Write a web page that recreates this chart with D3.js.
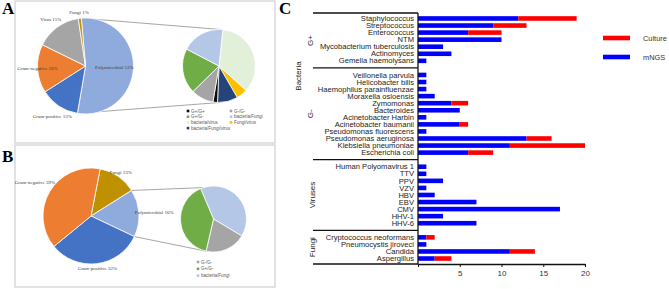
<!DOCTYPE html>
<html lang="en">
<head>
  <meta charset="UTF-8">
  <title>Infection types and pathogens</title>
  <script src="https://cdn.jsdelivr.net/npm/d3@7"></script>
  <style>
    body { margin: 0; background: #fff; }
    svg { display: block; }
    .plab { font-family: "Liberation Serif", serif; font-size: 5px; fill: #404040; }
    .leg { font-family: "Liberation Sans", Arial, sans-serif; font-size: 4.5px; fill: #595959; }
    .panel { font-family: "Liberation Serif", serif; font-size: 17px; font-weight: bold; }
    .row { font-family: "Liberation Sans", Arial, sans-serif; font-size: 7.6px; fill: #222; }
    .grp { font-family: "Liberation Sans", Arial, sans-serif; font-size: 8px; fill: #222; }
    .lgc { font-family: "Liberation Sans", Arial, sans-serif; font-size: 7.4px; fill: #333; }
  </style>
</head>
<body>
<svg width="669" height="289"></svg>
<script>
// ---- panel A data
const catA = ["Polymicrobial", "Gram-positive", "Gram-negative", "Virus", "Fungi"];
const pctA = [53, 13, 16, 15, 1];
const subA = ["bacteria/virus", "Fungi/virus", "bacteria/Fungi/virus", "G+/G+", "G-/G-", "G+/G-", "bacteria/Fungi"];
const subAVal = [35, 5, 9, 2, 10, 20, 19];
const legA = ["G+/G+", "G-/G-", "G+/G-", "bacteria/Fungi", "bacteria/virus", "Fungi/virus", "bacteria/Fungi/virus"];

// ---- panel B data
const catB = ["Fungi", "Polymicrobial", "Gram-positive", "Gram-negative"];
const pctB = [13, 16, 32, 39];
const subB = ["bacteria/Fungi", "G-/G-", "G+/G-"];
const subBVal = [40, 20, 40];
const legB = ["G-/G-", "G+/G-", "bacteria/Fungi"];

// ---- panel C data
const gPos = ["Staphylococcus", "Streptococcus", "Enterococcus", "NTM", "Mycobacterium tuberculosis", "Actinomyces", "Gemella haemolysans"];
const gPosNGS = [12, 9, 6, 10, 3, 4, 1];
const gPosCult = [7, 4, 4, 0, 0, 0, 0];
const gNeg = ["Veillonella parvula", "Helicobacter bilis", "Haemophilus parainfluenzae", "Moraxella osloensis", "Zymomonas", "Bacteroides",
  "Acinetobacter Harbin", "Acinetobacter baumanii", "Pseudomonas fluorescens", "Pseudomonas aeruginosa", "Klebsiella pneumoniae", "Escherichia coli"];
const gNegNGS = [1, 1, 1, 2, 4, 5, 1, 5, 1, 13, 11, 6];
const gNegCult = [0, 0, 0, 0, 2, 0, 0, 1, 0, 3, 9, 3];
const viruses = ["Human Polyomavirus 1", "TTV", "PPV", "VZV", "HBV", "EBV", "CMV", "HHV-1", "HHV-6"];
const virusNGS = [1, 1, 3, 1, 2, 7, 17, 3, 7];
const virusCult = [0, 0, 0, 0, 0, 0, 0, 0, 0];
const fungi = ["Cryptococcus neoformans", "Pneumocystis jiroveci", "Candida", "Aspergillus"];
const fungiNGS = [1, 1, 11, 2];
const fungiCult = [1, 0, 3, 2];
const xTicks = [0, 5, 10, 15, 20];

const colors = {
  "Polymicrobial": "#8faadc", "Gram-positive": "#4472c4", "Gram-negative": "#ed7d31",
  "Virus": "#a5a5a5", "Fungi": "#bf9000",
  "G+/G+": "#0d0d0d", "G-/G-": "#a5a5a5", "G+/G-": "#70ad47", "bacteria/Fungi": "#b4c7e7",
  "bacteria/virus": "#e2f0d9", "Fungi/virus": "#ffc000", "bacteria/Fungi/virus": "#264478"
};
const deg = Math.PI / 180;
const svg = d3.select("svg");

// frames
svg.append("rect").attr("x", 15).attr("y", 1).attr("width", 260).attr("height", 142)
  .attr("fill", "none").attr("stroke", "#d9d9d9").attr("stroke-width", 1.5);
svg.append("rect").attr("x", 15).attr("y", 145).attr("width", 260).attr("height", 142)
  .attr("fill", "none").attr("stroke", "#d9d9d9").attr("stroke-width", 1.5);

svg.append("text").attr("class", "panel").attr("x", 2).attr("y", 14).text("A");
svg.append("text").attr("class", "panel").attr("x", 2).attr("y", 162).text("B");
svg.append("text").attr("class", "panel").attr("x", 279).attr("y", 14).text("C");

function edge(c, r, a) { return [c[0] + r * Math.sin(a), c[1] - r * Math.cos(a)]; }

function pieOfPie(o) {
  const pieMain = d3.pie().sort(null).startAngle(o.start * deg).endAngle(o.start * deg + 2 * Math.PI);
  const arcsMain = pieMain(o.vals);
  const pieSub = d3.pie().sort(null).startAngle(o.subStart * deg).endAngle(o.subStart * deg + 2 * Math.PI);
  const arcsSub = pieSub(o.subVals);

  // connector lines from the polymicrobial slice to the secondary pie
  const poly = arcsMain[o.cats.indexOf("Polymicrobial")];
  const p1 = edge(o.c, o.r, poly.startAngle), p2 = edge(o.c, o.r, poly.endAngle);
  const q1 = edge(o.sc, o.sr, o.topA * deg), q2 = edge(o.sc, o.sr, o.botA * deg);
  svg.append("path").attr("d", d3.line()([p1, q1])).attr("stroke", "#7f7f7f").attr("stroke-width", 0.7).attr("fill", "none");
  svg.append("path").attr("d", d3.line()([p2, q2])).attr("stroke", "#7f7f7f").attr("stroke-width", 0.7).attr("fill", "none");

  const arc = d3.arc().innerRadius(0).outerRadius(o.r);
  svg.append("g").attr("transform", `translate(${o.c})`)
    .selectAll("path").data(arcsMain).join("path")
    .attr("d", arc).attr("fill", (d, i) => colors[o.cats[i]])
    .attr("stroke", "#fff").attr("stroke-width", 0.8);

  const subArc = d3.arc().innerRadius(0).outerRadius(o.sr);
  svg.append("g").attr("transform", `translate(${o.sc})`)
    .selectAll("path").data(arcsSub).join("path")
    .attr("d", subArc).attr("fill", (d, i) => colors[o.subs[i]])
    .attr("stroke", "#fff").attr("stroke-width", 0.8);

  // slice labels
  svg.append("g").attr("transform", `translate(${o.c})`)
    .selectAll("text").data(arcsMain).join("text")
    .attr("class", "plab").attr("text-anchor", "middle").attr("dy", "0.35em")
    .attr("transform", (d, i) => {
      const rr = o.r * o.labR[i];
      return `translate(${d3.arc().innerRadius(rr).outerRadius(rr).centroid(d)})`;
    })
    .text((d, i) => `${o.cats[i]} ${o.vals[i]}%`);

  // legend
  const lg = svg.append("g");
  o.leg.forEach((name, i) => {
    const col = i % o.legCols, rowi = Math.floor(i / o.legCols);
    const x = o.legX + col * o.legDx, y = o.legY + rowi * o.legDy;
    lg.append("rect").attr("x", x - 1.3).attr("y", y - 1.3).attr("width", 2.6).attr("height", 2.6).attr("fill", colors[name]);
    lg.append("text").attr("class", "leg").attr("x", x + 3).attr("y", y).attr("dy", "0.35em").text(name);
  });
}

pieOfPie({
  cats: catA, vals: pctA, c: [85.5, 66], r: 48, start: -5,
  labR: [0.6, 1.25, 1.0, 1.22, 1.12],
  subs: subA, subVals: subAVal, sc: [219, 66], sr: 36.5, subStart: 6, topA: 5, botA: 178,
  leg: legA, legCols: 2, legX: 188, legY: 111, legDx: 43, legDy: 5.7
});
pieOfPie({
  cats: catB, vals: pctB, c: [91, 216], r: 48, start: 11,
  labR: [1.1, 1.32, 1.1, 1.36],
  subs: subB, subVals: subBVal, sc: [213.5, 219], sr: 33, subStart: -23, topA: -18, botA: 190,
  leg: legB, legCols: 1, legX: 198, legY: 262, legDx: 0, legDy: 6.8
});

// ---- panel C
const groups = [
  { name: "G+", rows: gPos, ngs: gPosNGS, cult: gPosCult },
  { name: "G-", rows: gNeg, ngs: gNegNGS, cult: gNegCult },
  { name: "Viruses", rows: viruses, ngs: virusNGS, cult: virusCult },
  { name: "Fungi", rows: fungi, ngs: fungiNGS, cult: fungiCult }
];
const table = [];
const domain = [];
groups.forEach((g, gi) => {
  if (gi > 0) domain.push("gap" + gi);
  g.rows.forEach((name, i) => {
    domain.push(name);
    table.push({ name: name, mNGS: g.ngs[i], Culture: g.cult[i] });
  });
});

const x = d3.scaleLinear().domain([0, 20]).range([418, 585]);
const y = d3.scaleBand().domain(domain).range([13, 264]).paddingInner(0.35).paddingOuter(0.45);
const mid = k => y(k) + y.bandwidth() / 2;

const series = d3.stack().keys(["mNGS", "Culture"])(table);
const barCol = { mNGS: "#0000ff", Culture: "#ff0000" };
svg.append("g").selectAll("g").data(series).join("g")
  .attr("fill", s => barCol[s.key])
  .selectAll("rect").data(s => s).join("rect")
  .attr("x", d => x(d[0])).attr("width", d => x(d[1]) - x(d[0]))
  .attr("y", d => y(d.data.name)).attr("height", y.bandwidth());

svg.append("g").selectAll("text").data(table).join("text")
  .attr("class", "row").attr("x", 414).attr("y", d => mid(d.name)).attr("dy", "0.35em")
  .attr("text-anchor", "end").text(d => d.name);

// bracket lines
const lineYs = [13, mid("gap1"), mid("gap2"), mid("gap3"), 264];
lineYs.forEach(v => {
  svg.append("line").attr("x1", 313).attr("x2", 418).attr("y1", v).attr("y2", v)
    .attr("stroke", "#111").attr("stroke-width", 1.3);
});
svg.append("line").attr("x1", 418).attr("x2", 418).attr("y1", 13).attr("y2", 264)
  .attr("stroke", "#111").attr("stroke-width", 1.3);

// x axis
const ax = svg.append("g").attr("transform", "translate(0,264)")
  .call(d3.axisBottom(x).tickValues(xTicks).tickFormat(d => d ? d : "").tickSize(3).tickSizeOuter(0));
ax.select(".domain").attr("stroke", "#111").attr("stroke-width", 1.3);
ax.selectAll(".tick line").attr("stroke", "#111");
ax.selectAll("text").attr("font-family", "Liberation Sans, Arial, sans-serif").attr("font-size", 8).attr("fill", "#333");

// group labels
const grpLabels = [
  ["G+", 310, (lineYs[0] + lineYs[1]) / 2],
  ["G-", 310, (lineYs[1] + lineYs[2]) / 2],
  ["Bacteria", 298, 76],
  ["Viruses", 312, (lineYs[2] + lineYs[3]) / 2],
  ["Fungi", 312, (lineYs[3] + lineYs[4]) / 2]
];
grpLabels.forEach(([t, gx, gy]) => {
  svg.append("text").attr("class", "grp").attr("text-anchor", "middle").attr("dy", "0.35em")
    .attr("transform", `translate(${gx},${gy}) rotate(-90)`).text(t);
});

// legend
const legC = [["Culture", "Culture", 38], ["mNGS", "mNGS", 57]];
legC.forEach(([key, label, ly]) => {
  svg.append("rect").attr("x", 603).attr("y", ly - 2.3).attr("width", 27).attr("height", 4.6).attr("fill", barCol[key]);
  svg.append("text").attr("class", "lgc").attr("x", 643).attr("y", ly).attr("dy", "0.35em").text(label);
});
</script>
</body>
</html>
